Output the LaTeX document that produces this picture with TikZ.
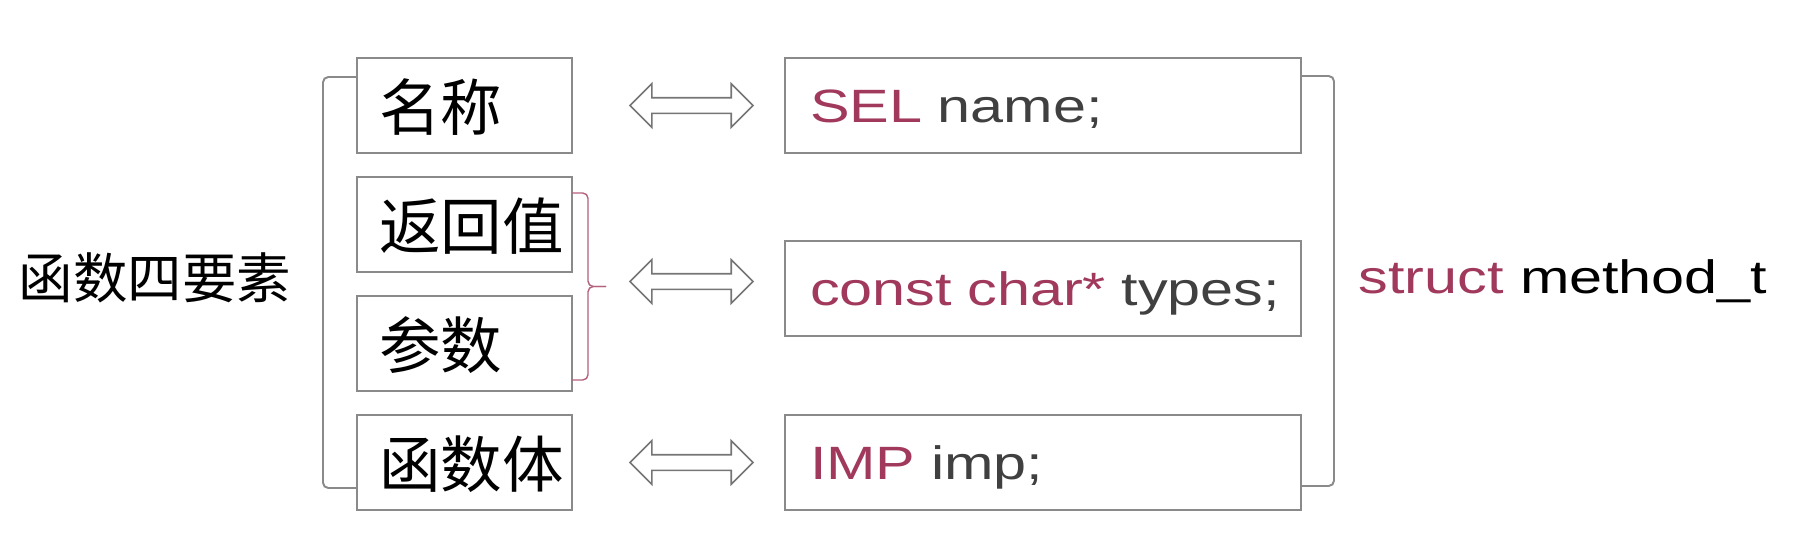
\documentclass[tikz,border=0pt]{standalone}
\usepackage{fontspec}
\setmainfont{Liberation Sans}[FakeStretch=1.27]
\newfontfamily\cjk{Noto Sans CJK SC}
\usepackage{xcolor}
\usetikzlibrary{positioning,calc,shapes.arrows}
\definecolor{keyred}{HTML}{A0395B}
\definecolor{codegray}{HTML}{404040}
\definecolor{boxgray}{HTML}{8A8A8A}

\begin{document}
\begin{tikzpicture}[
  elem/.style={
    rectangle,
    draw=boxgray,
    line width=1.1pt,
    outer sep=0pt,
    minimum width=4.3cm,
    minimum height=1.9cm,
    text width=3.42cm,
    text height=1.1cm,
    text depth=0.1cm,
    inner xsep=0.44cm,
    align=left,
    font=\cjk\fontsize{35}{40}\selectfont
  },
  field/.style={
    rectangle,
    draw=boxgray,
    line width=1.1pt,
    outer sep=0pt,
    minimum width=10.32cm,
    minimum height=1.9cm,
    text width=9.32cm,
    text height=0.8cm,
    text depth=0.14cm,
    inner xsep=0.5cm,
    align=left,
    text=codegray,
    font=\fontsize{26.6}{32}\selectfont
  },
  bracket/.style={draw=boxgray, line width=1.1pt, rounded corners=3pt},
  brace/.style={draw=keyred!80, line width=0.8pt, rounded corners=3pt},
  link/.style={
    double arrow,
    draw=boxgray!85!black,
    line width=0.9pt,
    outer sep=0pt,
    minimum height=2.46cm,
    inner sep=0.14cm,
    double arrow head extend=0.28cm
  }
]
\useasboundingbox (0,0) rectangle (36,-10.68);

\node[font=\cjk\fontsize{31}{36}\selectfont] (title) at (3.1,-5.56) {函数四要素};

% the four parts
\node[elem] (name) at (9.29,-2.11) {名称};
\node[elem, below=0.48cm of name] (ret) {返回值};
\node[elem, below=0.48cm of ret] (par) {参数};
\node[elem, below=0.48cm of par] (body) {函数体};

% fields of method_t
\node[field, right=4.26cm of name] (sel) {\mbox{\textcolor{keyred}{SEL} name;}};
\node[field, below=1.76cm of sel] (types) {\mbox{\textcolor{keyred}{const char*} types;}};
\node[field, right=4.26cm of body] (imp) {\mbox{\textcolor{keyred}{IMP} imp;}};

% brackets
\draw[bracket] ([yshift=-0.38cm]name.north west) -- ++(-0.68,0) |- ([yshift=0.44cm]body.south west);
\draw[bracket] ([yshift=-0.36cm]sel.north east) -- ++(0.66,0) |- ([yshift=0.48cm]imp.south east);

\coordinate (bt) at ([yshift=-0.32cm]ret.north east);
\coordinate (bb) at ([yshift=0.22cm]par.south east);
\coordinate (tip) at ($(bt)!0.5!(bb)+(0.68,0)$);
\draw[brace] (bt) -- ++(0.32,0) |- (tip);
\draw[brace] (bb) -- ++(0.32,0) |- (tip);

% arrows
\node[link, right=1.16cm of name] (a1) {};
\node[link, right=0.48cm of tip, yshift=0.1cm] (a2) {};
\node[link, right=1.16cm of body] (a3) {};

\coordinate (rb) at ($([yshift=-0.36cm]sel.north east)!0.5!([yshift=0.48cm]imp.south east)+(0.66,0)$);
\node[anchor=base west, inner sep=0pt, font=\fontsize{26.6}{32}\selectfont] (struct) at ([xshift=0.48cm, yshift=-0.25cm]rb) {\textcolor{keyred}{struct} method\_t};

\end{tikzpicture}
\end{document}
